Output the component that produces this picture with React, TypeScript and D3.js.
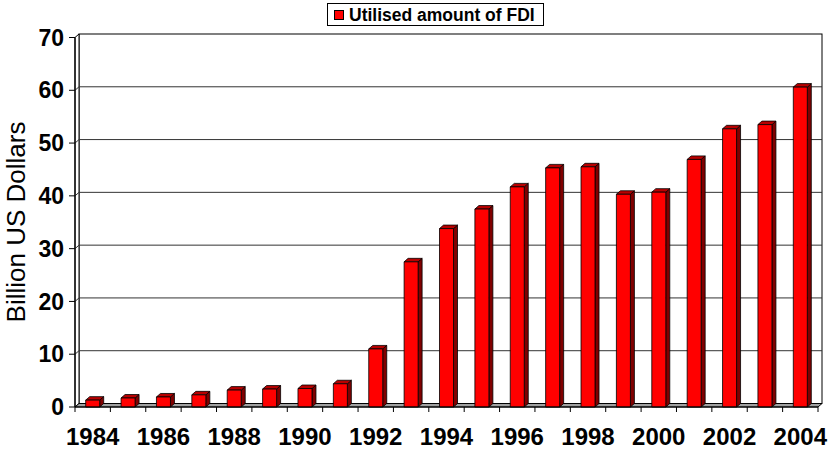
import React from "react";
import * as d3 from "d3";

const years = d3.range(1984, 2005).map(String);
const fdi = [1.3, 1.7, 1.9, 2.3, 3.2, 3.4, 3.5, 4.4, 11.0, 27.5, 33.8, 37.5, 41.7, 45.3, 45.5, 40.3, 40.7, 46.9, 52.7, 53.5, 60.6];
const yTicks = [0, 10, 20, 30, 40, 50, 60, 70];
const xLabels = years.filter((_, i) => i % 2 === 0);
const seriesName = "Utilised amount of FDI";
const yTitle = "Billion US Dollars";

const W = 830, H = 450;
const DX = 4, DY = -3.5;
const FONT = "'Liberation Sans', Arial, sans-serif";

export default function App() {
  const x = d3.scaleBand<string>().domain(years).range([75, 818]).padding(0);
  const y = d3.scaleLinear().domain([0, 70]).range([407, 37.5]);
  const bw = 14;
  const y0 = y(0);
  const xl = x.range()[0], xr = x.range()[1];
  const pts = (a: number[][]) => a.map(p => p.join(",")).join(" ");

  return (
    <svg width={W} height={H} style={{ position: "absolute", left: 0, top: 0, background: "#fff" }} fontFamily={FONT}>
      {/* back wall */}
      <rect x={xl + DX} y={y(70) + DY} width={xr - xl} height={y0 - y(70)} fill="#fff" stroke="#000" strokeWidth={1} />
      {/* left wall */}
      <polygon points={pts([[xl, y(70)], [xl + DX, y(70) + DY], [xl + DX, y0 + DY], [xl, y0]])} fill="#fff" stroke="#000" strokeWidth={1} />
      {/* gridlines */}
      {yTicks.filter(t => t > 0 && t < 70).map(t => (
        <polyline key={t} points={pts([[xl, y(t)], [xl + DX, y(t) + DY], [xr + DX, y(t) + DY]])} fill="none" stroke="#333" strokeWidth={1} />
      ))}
      {/* floor */}
      <polygon points={pts([[xl, y0], [xl + DX, y0 + DY], [xr + DX, y0 + DY], [xr, y0]])} fill="#a0a0a0" stroke="#000" strokeWidth={1} />
      {/* bars */}
      {years.map((yr, i) => {
        const cx = (x(yr) as number) + x.bandwidth() / 2;
        const x0 = cx - bw / 2, x1 = cx + bw / 2;
        const yv = y(fdi[i]);
        return (
          <g key={yr} stroke="#000" strokeWidth={0.8} strokeLinejoin="round">
            <polygon points={pts([[x1, yv], [x1 + DX, yv + DY], [x1 + DX, y0 + DY], [x1, y0]])} fill="#800000" />
            <polygon points={pts([[x0, yv], [x0 + DX, yv + DY], [x1 + DX, yv + DY], [x1, yv]])} fill="#b80000" />
            <rect x={x0} y={yv} width={bw} height={y0 - yv} fill="#ff0000" />
          </g>
        );
      })}
      {/* y axis */}
      <line x1={xl} y1={y(70)} x2={xl} y2={y0} stroke="#000" strokeWidth={1.2} />
      {yTicks.map(t => (
        <g key={t}>
          <line x1={xl - 6} x2={xl} y1={y(t)} y2={y(t)} stroke="#000" strokeWidth={1} />
          <text x={64} y={y(t) + 8.2} textAnchor="end" fontSize={23} fontWeight="bold">{t}</text>
        </g>
      ))}
      {/* x axis */}
      <line x1={xl} x2={xr} y1={y0} y2={y0} stroke="#000" strokeWidth={1.2} />
      {d3.range(years.length + 1).map(i => {
        const px = xl + i * x.step();
        return <line key={i} x1={px} x2={px} y1={y0} y2={y0 + 5} stroke="#000" strokeWidth={1} />;
      })}
      {xLabels.map(l => (
        <text key={l} x={(x(l) as number) + x.bandwidth() / 2} y={445} textAnchor="middle" fontSize={24} fontWeight="bold">{l}</text>
      ))}
      {/* y title */}
      <text transform="translate(25,222) rotate(-90)" textAnchor="middle" fontSize={26}>{yTitle}</text>
      {/* legend */}
      <rect x={327.5} y={3.5} width={216} height={22} fill="#fff" stroke="#000" strokeWidth={1} />
      <rect x={334.5} y={10.5} width={9} height={9} fill="#ff0000" stroke="#000" strokeWidth={1} />
      <text x={349} y={20.5} fontSize={17.5} fontWeight="bold">{seriesName}</text>
    </svg>
  );
}
